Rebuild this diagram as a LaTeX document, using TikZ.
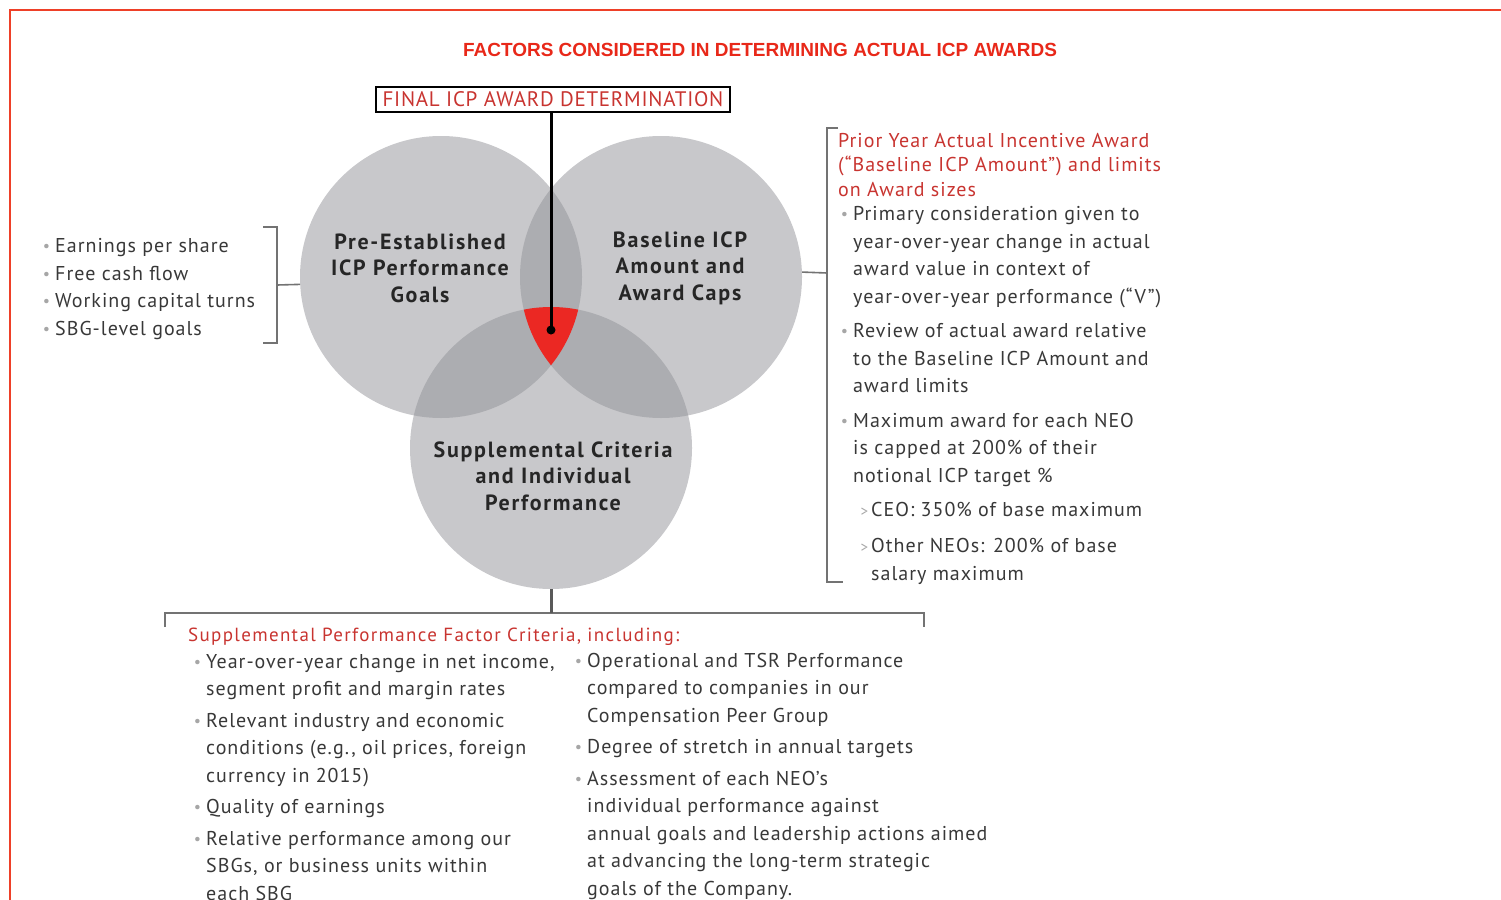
\documentclass[tikz,border=0pt]{standalone}
\usepackage{fontspec}
\setmainfont{PT Sans}
\newfontfamily\titlefont{Liberation Sans}
\newfontfamily\bodyfont[LetterSpace=5]{PT Sans}
\newfontfamily\vennfont[LetterSpace=8]{PT Sans}
\newfontfamily\boxfont[LetterSpace=3.5]{PT Sans}
\newfontfamily\headfont[LetterSpace=7]{PT Sans}
\usepackage{xcolor}
\usepackage{graphicx}
\usepackage{tikz}
\usetikzlibrary{calc}
\definecolor{framered}{RGB}{238,64,40}
\definecolor{titlered}{RGB}{232,40,25}
\definecolor{headred}{RGB}{200,52,48}
\definecolor{venngray}{RGB}{200,200,203}
\definecolor{lensgray}{RGB}{172,173,177}
\definecolor{centrered}{RGB}{235,40,35}
\colorlet{txtgray}{black!78}
\colorlet{bulgray}{black!35}
\colorlet{rulegray}{black!55}
\newcommand\bul{\makebox[0pt][r]{\textcolor{bulgray}{\raisebox{1pt}{\scalebox{.8}{\textbullet}}}\hspace{5pt}}}
\newcommand\sbul{\makebox[0pt][r]{\textcolor{bulgray}{\scalebox{.75}{>}}\hspace{3pt}}}
\newcommand\rr{141pt}
\tikzstyle{venn}=[circle,fill=venngray,minimum size=282pt,inner sep=0pt]
\tikzstyle{vlabel}=[align=center,inner sep=0pt,text=black!85,font=\vennfont\bfseries\fontsize{22}{26.5}\selectfont]
\tikzstyle{blist}=[align=left,anchor=base west,inner sep=0pt,text=txtgray,font=\bodyfont\fontsize{20}{27.5}\selectfont]
\tikzstyle{hlist}=[blist,text=headred,font=\bodyfont\fontsize{20}{24.5}\selectfont]
\tikzstyle{brk}=[line width=1.6pt,draw=rulegray]
\begin{document}
\begin{tikzpicture}[x=1pt,y=-1pt]
	\useasboundingbox (0,0) rectangle (1501,899);
	\clip (0,0) rectangle (1501,899);
	\draw[framered,line width=1.8pt] (10,910) -- (10,10) -- (1510,10);
	\node[font=\titlefont\bfseries\fontsize{19}{21}\selectfont,text=titlered] (title) at (760,50)
		{FACTORS CONSIDERED IN DETERMINING ACTUAL ICP AWARDS};
	% venn circles
	\node[venn] (pre)  at (441,277) {};
	\node[venn] (base) at (661,277) {};
	\node[venn] (supp) at (551,448) {};
	\begin{scope}
		\clip (pre.center) circle (\rr);
		\fill[lensgray] (base.center) circle (\rr);
		\fill[lensgray] (supp.center) circle (\rr);
	\end{scope}
	\begin{scope}
		\clip (base.center) circle (\rr);
		\fill[lensgray] (supp.center) circle (\rr);
		\clip (pre.center) circle (\rr);
		\fill[centrered] (supp.center) circle (\rr);
	\end{scope}
	\node[vlabel] (prelbl)  at (420,268) {Pre-Established\\ICP Performance\\Goals};
	\node[vlabel] (baselbl) at (680,268) {Baseline ICP\\Amount and\\Award Caps};
	\node[vlabel] (supplbl) at (553,476) {Supplemental Criteria\\and Individual\\Performance};
	% final award
	\node[draw=black,line width=1.6pt,minimum width=354pt,minimum height=25pt,inner sep=0pt,
		font=\boxfont\fontsize{21}{22}\selectfont,text=headred] (final) at (553,99.5)
		{FINAL ICP AWARD DETERMINATION};
	\node[circle,fill=black,minimum size=9pt,inner sep=0pt] (dot) at (551,330) {};
	\draw[line width=3pt] (final.south -| dot) -- (dot.center);
	% left: goals
	\node[blist] (goals) at (55,335) {\bul Earnings per share\\\bul Free cash flow\\
		\bul Working capital turns\\\bul SBG-level goals};
	\coordinate (lbk) at (277,285);
	\draw[brk] (263,227) -- (277,227) -- (277,343) -- (263,343);
	\draw[brk] (lbk) -- (pre.183);
	% right: baseline
	\node[hlist] (priorhd) at (838,196) {Prior Year Actual Incentive Award\\
		(“Baseline ICP Amount”) and limits\\on Award sizes};
	\node[blist] (priorls) at (853,580) {\bul Primary consideration given to\\
		year-over-year change in actual\\award value in context of\\
		year-over-year performance (“V”)\\[7pt]
		\bul Review of actual award relative\\to the Baseline ICP Amount and\\award limits\\[7pt]
		\bul Maximum award for each NEO\\is capped at 200\% of their\\notional ICP target \%\\[7pt]
		\hspace*{18pt}\sbul CEO: 350\% of base maximum\\[8.5pt]
		\hspace*{18pt}\sbul Other NEOs: 200\% of base\\\hspace*{18pt}salary maximum};
	\coordinate (rbk) at (827,273);
	\draw[brk] (838,128) -- (827,128) -- (827,582) -- (843,582);
	\draw[brk] (base.2) -- (rbk);
	% bottom: supplemental
	\coordinate (bbk) at (551,613);
	\draw[brk] (165,627) -- (165,613) -- (924,613) -- (924,627);
	\draw[line width=3pt,draw=black!65] (supp.south) -- (bbk);
	\node[hlist,font=\headfont\fontsize{19}{24}\selectfont] (supphd) at (188,641)
		{Supplemental Performance Factor Criteria, including:};
	\node[blist] (suppl) at (206,900) {\bul Year-over-year change in net income,\\
		segment profit and margin rates\\[4pt]
		\bul Relevant industry and economic\\conditions (e.g., oil prices, foreign\\currency in 2015)\\[4pt]
		\bul Quality of earnings\\[4pt]
		\bul Relative performance among our\\SBGs, or business units within\\each SBG};
	\node[blist] (suppr) at (587,895) {\bul Operational and TSR Performance\\
		compared to companies in our\\Compensation Peer Group\\[4pt]
		\bul Degree of stretch in annual targets\\[4pt]
		\bul Assessment of each NEO’s\\individual performance against\\
		annual goals and leadership actions aimed\\at advancing the long-term strategic\\
		goals of the Company.};
\end{tikzpicture}
\end{document}
